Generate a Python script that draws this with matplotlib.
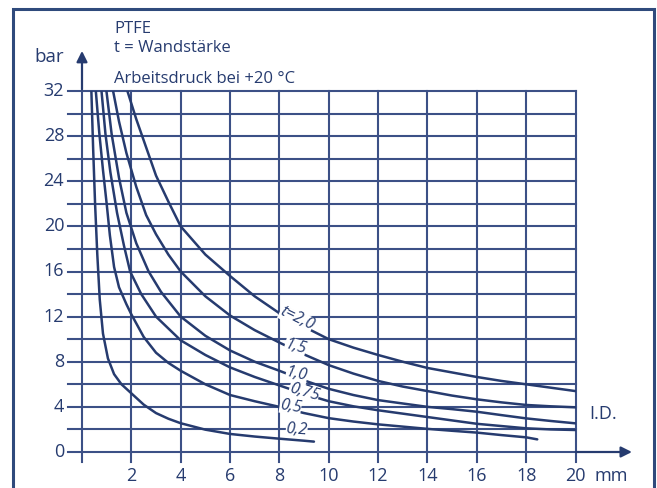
import matplotlib
matplotlib.use('Agg')
import matplotlib.pyplot as plt
from matplotlib.patches import Rectangle

# wall thickness t in mm -> working pressure (bar) over inner diameter (mm)
thickness = ['2,0', '1,5', '1,0', '0,75', '0,5', '0,2']

id_20 = [1.84, 2.2, 2.6, 3.0, 3.5, 4, 5, 6, 7, 8, 9, 10, 11, 12, 13, 14, 15, 16, 17, 18, 19, 20]
bar_20 = [32, 29.5, 27, 24.5, 22.2, 20, 17.5, 15.6, 13.8, 12.3, 11.1, 10.0, 9.25, 8.6, 8.0, 7.45,
          7.05, 6.65, 6.3, 6.0, 5.7, 5.4]

id_15 = [1.26, 1.5, 1.8, 2.2, 2.6, 3, 3.5, 4, 5, 6, 7, 8, 9, 10, 11, 12, 13, 14, 15, 16, 17, 18, 19, 20]
bar_15 = [32, 29.3, 26.5, 23.5, 21.0, 19.3, 17.5, 16.0, 13.8, 12.1, 10.8, 9.7, 8.65, 7.7, 6.95, 6.3,
          5.8, 5.4, 5.0, 4.67, 4.4, 4.17, 4.05, 3.96]

id_10 = [0.99, 1.2, 1.5, 1.8, 2.2, 2.7, 3.2, 4, 5, 6, 7, 8, 9, 10, 11, 12, 13, 14, 15, 16, 17, 18, 19, 20]
bar_10 = [32, 28.2, 24.3, 21.2, 18.5, 16.0, 14.2, 12.0, 10.3, 9.0, 8.0, 7.2, 6.35, 5.6, 5.05, 4.6,
          4.3, 4.0, 3.8, 3.57, 3.27, 2.98, 2.75, 2.54]

id_075 = [0.79, 0.95, 1.15, 1.42, 1.7, 1.95, 2.4, 3, 4, 5, 6, 7, 8, 9, 10, 11, 12, 13, 14, 15, 16,
          17, 18, 19, 20]
bar_075 = [32, 28.2, 24.8, 21.2, 18.3, 16.0, 14.0, 12.0, 9.9, 8.6, 7.5, 6.65, 5.9, 5.15, 4.5, 4.05,
           3.7, 3.4, 3.1, 2.8, 2.5, 2.3, 2.1, 2.0, 1.95]

id_05 = [0.56, 0.7, 0.85, 1.0, 1.13, 1.3, 1.5, 1.8, 2.0, 2.5, 3, 3.5, 4, 5, 6, 7, 8, 9, 10, 11, 12,
         13, 14, 15, 16, 17, 18, 18.45]
bar_05 = [32, 28.3, 25.0, 22.0, 19.2, 16.4, 14.6, 13.1, 12.2, 10.2, 8.8, 7.9, 7.2, 6.0, 5.05, 4.5,
          4.0, 3.45, 3.0, 2.7, 2.45, 2.25, 2.05, 1.88, 1.72, 1.5, 1.3, 1.12]

id_02 = [0.38, 0.45, 0.53, 0.62, 0.72, 0.85, 1.05, 1.3, 1.6, 2, 2.5, 3, 3.5, 4, 5, 6, 7, 8, 9, 9.4]
bar_02 = [32, 27, 22, 17.5, 13.5, 10.5, 8.3, 6.9, 6.0, 5.2, 4.2, 3.45, 2.95, 2.55, 1.98, 1.6, 1.37,
          1.18, 1.0, 0.92]

curves = [(id_20, bar_20), (id_15, bar_15), (id_10, bar_10),
          (id_075, bar_075), (id_05, bar_05), (id_02, bar_02)]

x_ticks = [2, 4, 6, 8, 10, 12, 14, 16, 18, 20]
y_ticks = [0, 4, 8, 12, 16, 20, 24, 28, 32]

# label placement (x, y, rotation) - labels sit on the curves and break them
label_pos = [(8.7, 11.85, -26), (8.65, 9.3, -16), (8.7, 6.85, -12),
             (9.0, 5.3, -16), (8.45, 4.05, -9), (8.7, 1.95, -4)]

navy = '#263b6f'
grid_c = '#3c5086'

plt.rcParams['font.family'] = ['Open Sans', 'DejaVu Sans']

fig = plt.figure(figsize=(6.57, 4.88), dpi=100)
ax = fig.add_axes([82 / 657, 36 / 488, (575.5 - 82) / 657, 361 / 488])
ax.set_xlim(0, 20)
ax.set_ylim(0, 32)
ax.axis('off')

# grid, with the small overhang outside the plot area
for yv in range(0, 33, 2):
    ax.plot([-0.57, 20], [yv, yv], color=grid_c, lw=1.5, clip_on=False, zorder=1)
for xv in range(0, 21, 2):
    ax.plot([xv, xv], [-0.9, 32], color=grid_c, lw=1.5, clip_on=False, zorder=1)

# axis arrows
ax.annotate('', xy=(22.4, 0), xytext=(19.9, 0),
            arrowprops=dict(arrowstyle='-|>', color=navy, lw=1.6, mutation_scale=16),
            annotation_clip=False)
ax.annotate('', xy=(0, 35.8), xytext=(0, 31.9),
            arrowprops=dict(arrowstyle='-|>', color=navy, lw=1.6, mutation_scale=16),
            annotation_clip=False)

for (xs, ys) in curves:
    ax.plot(xs, ys, color=navy, lw=1.8, zorder=4, solid_capstyle='round')

for i, (lx, ly, rot) in enumerate(label_pos):
    txt = thickness[i]
    if i == 0:
        txt = 't=' + txt
    ax.text(lx, ly, txt, fontsize=11.5, style='italic', color=navy, rotation=rot,
            ha='center', va='center', zorder=5,
            bbox=dict(boxstyle='square,pad=0.0', fc='white', ec='none'))

for yv in y_ticks:
    ax.text(-0.72, yv, str(yv), fontsize=13, color=navy, ha='right', va='center')
for xv in x_ticks:
    ax.text(xv, -2.15, str(xv), fontsize=13, color=navy, ha='center', va='center')

ax.text(20.75, -2.15, 'mm', fontsize=13, color=navy, ha='left', va='center')
ax.text(20.55, 3.4, 'I.D.', fontsize=13, color=navy, ha='left', va='center')
ax.text(-0.73, 35.0, 'bar', fontsize=13.5, color=navy, ha='right', va='center')

ax.text(1.3, 37.5, 'PTFE', fontsize=12, color=navy, ha='left', va='center')
ax.text(1.3, 35.8, 't = Wandstärke', fontsize=12, color=navy, ha='left', va='center')
ax.text(1.3, 33.1, 'Arbeitsdruck bei +20 °C', fontsize=12, color=navy, ha='left', va='center')

# outer frame
fig.add_artist(Rectangle((13 / 657, -0.02), (654 - 13) / 657, 1 - 9 / 488 + 0.02,
                         transform=fig.transFigure, fill=False, ec='#2f4a7c', lw=2.2))

fig.savefig('out.png', dpi=100)
